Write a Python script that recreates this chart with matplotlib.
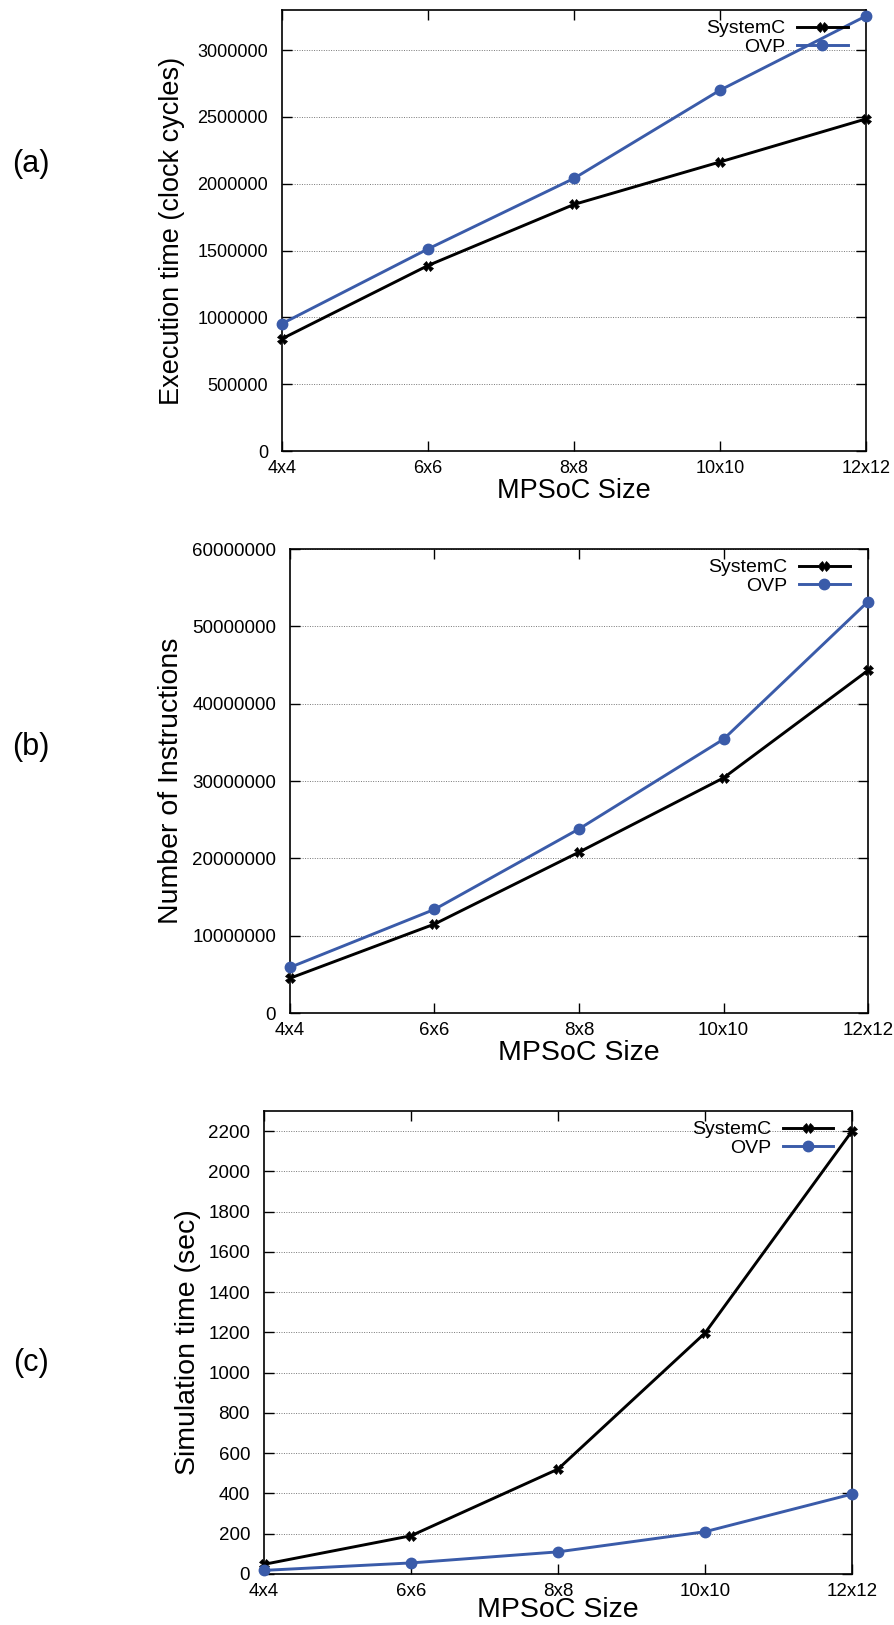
import matplotlib
matplotlib.use("Agg")
import matplotlib.pyplot as plt

plt.rcParams['font.family'] = ['Liberation Sans', 'DejaVu Sans']

sizes = ["4x4", "6x6", "8x8", "10x10", "12x12"]

exec_systemc = [840000, 1388000, 1845000, 2163000, 2485000]
exec_ovp = [953000, 1512000, 2040000, 2700000, 3255000]

instr_systemc = [4500000, 11500000, 20800000, 30400000, 44300000]
instr_ovp = [5900000, 13400000, 23800000, 35400000, 53200000]

sim_systemc = [48, 190, 521, 1197, 2200]
sim_ovp = [18, 55, 110, 210, 397]

BLUE = '#3a5ba9'
W, H = 895, 1625

fig = plt.figure(figsize=(W / 100, H / 100), dpi=100)


def make_axes(l, r, t, b):
    return fig.add_axes([l / W, 1 - b / H, (r - l) / W, (b - t) / H])


panels = [
    dict(box=(282, 866, 10, 451), sc=exec_systemc, ovp=exec_ovp,
         ylim=3300000, yticks=list(range(0, 3000001, 500000)),
         ylabel="Execution time (clock cycles)", tag="(a)", tagy=164,
         tick=13, lab=19.5, leg=14, lpad=9),
    dict(box=(290, 868, 549, 1013), sc=instr_systemc, ovp=instr_ovp,
         ylim=60000000, yticks=list(range(0, 60000001, 10000000)),
         ylabel="Number of Instructions", tag="(b)", tagy=747,
         tick=13.5, lab=20.5, leg=14, lpad=6),
    dict(box=(264, 852, 1111, 1574), sc=sim_systemc, ovp=sim_ovp,
         ylim=2300, yticks=list(range(0, 2201, 200)),
         ylabel="Simulation time (sec)", tag="(c)", tagy=1363,
         tick=13.5, lab=20.5, leg=14, lpad=5),
]

x = list(range(len(sizes)))

for i, p in enumerate(panels):
    ax = make_axes(*p['box'])
    ax.plot(x, p['sc'], color='black', lw=2.1, marker='X', ms=6.5,
            mec='black', mew=0.5, clip_on=False, zorder=4, label='SystemC')
    ax.plot(x, p['ovp'], color=BLUE, lw=2.1, marker='o', ms=7.5,
            clip_on=False, zorder=4, label='OVP')
    ax.set_xlim(0, len(sizes) - 1)
    ax.set_ylim(0, p['ylim'])
    ax.set_xticks(x)
    ax.set_xticklabels(sizes)
    ax.set_yticks(p['yticks'])
    ax.set_yticklabels([str(v) for v in p['yticks']])
    ax.yaxis.grid(True, linestyle=(0, (1, 1.5)), color='#777777', lw=0.7)
    ax.set_axisbelow(True)
    ax.tick_params(direction='in', length=7, width=1.0, labelsize=p['tick'],
                   top=True, right=True)
    ax.tick_params(axis='y', pad=10)
    ax.tick_params(axis='x', pad=6.5)
    for s in ax.spines.values():
        s.set_linewidth(1.2)
    l, r, t, b = p['box']
    if i < 2:
        ax.set_xlabel("MPSoC Size", fontsize=p['lab'], labelpad=1)
    else:
        fig.text((l + r) / 2 / W, 2 / H, "MPSoC Size", fontsize=p['lab'],
                 ha='center', va='bottom')
    ax.set_ylabel(p['ylabel'], fontsize=p['lab'], labelpad=p['lpad'])
    ax.legend(loc='upper right', frameon=False, fontsize=p['leg'],
              markerfirst=False, handlelength=2.6, handletextpad=0.6,
              labelspacing=0.05, borderaxespad=0.1, bbox_to_anchor=(0.985, 1.0))
    fig.text(31 / W, 1 - p['tagy'] / H, p['tag'], fontsize=22,
             ha='center', va='center')

fig.savefig("out.png", dpi=100)
